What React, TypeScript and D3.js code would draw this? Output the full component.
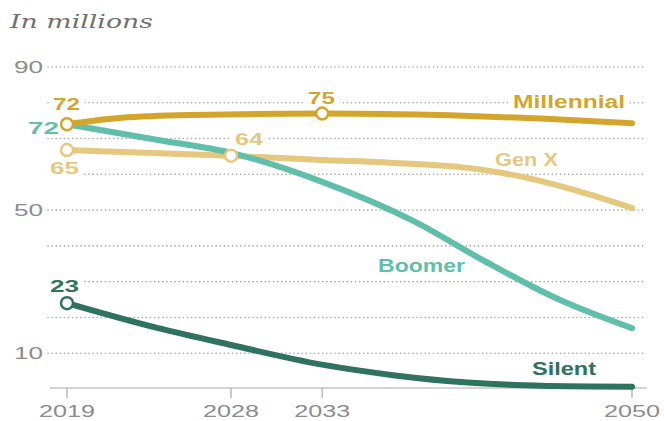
import React from "react";
import * as d3 from "d3";

const W = 664;
const H = 421;

const yTicks = [90, 50, 10];
const gridValues = [10, 20, 30, 40, 50, 60, 70, 80, 90];
const xTicks = [2019, 2028, 2033, 2050];

const millennialYears = [2019, 2022, 2026, 2033, 2040, 2045, 2050];
const millennialValues = [74.0, 75.8, 76.6, 77.0, 76.5, 75.6, 74.3];

const genXYears = [2019, 2028, 2033, 2037, 2041, 2044, 2047, 2050];
const genXValues = [66.8, 65.2, 64.0, 63.2, 61.8, 59.3, 55.4, 50.6];

const boomerYears = [2019, 2024, 2028, 2033, 2038, 2042, 2046, 2050];
const boomerValues = [74.0, 69.6, 66.0, 57.9, 47.0, 35.5, 25.0, 17.0];

const silentYears = [2019, 2024, 2028, 2033, 2037, 2041, 2045, 2050];
const silentValues = [24.0, 17.0, 12.3, 6.8, 3.8, 1.8, 0.9, 0.65];

const COLORS = {
  millennial: "#d3a62b",
  genX: "#e5c87e",
  boomer: "#5fbfab",
  silent: "#2f725d",
  axisText: "#8c8c8c",
  grid: "#a9a9a9",
  title: "#707070",
};

export default function App() {
  const x = d3.scaleLinear().domain([2019, 2050]).range([67, 632]);
  const y = d3.scaleLinear().domain([0, 90]).range([389, 67]);

  const line = d3
    .line<[number, number]>()
    .x((d) => x(d[0]))
    .y((d) => y(d[1]))
    .curve(d3.curveMonotoneX);

  const zip = (a: number[], b: number[]) => a.map((v, i) => [v, b[i]] as [number, number]);

  const series = [
    { key: "genX", data: zip(genXYears, genXValues), color: COLORS.genX },
    { key: "boomer", data: zip(boomerYears, boomerValues), color: COLORS.boomer },
    { key: "millennial", data: zip(millennialYears, millennialValues), color: COLORS.millennial },
    { key: "silent", data: zip(silentYears, silentValues), color: COLORS.silent },
  ];

  const markers = [
    { year: 2019, value: genXValues[0], color: COLORS.genX },
    { year: 2028, value: genXValues[1], color: COLORS.genX },
    { year: 2019, value: silentValues[0], color: COLORS.silent },
    { year: 2019, value: millennialValues[0], color: COLORS.millennial },
    { year: 2033, value: millennialValues[3], color: COLORS.millennial },
  ];

  const boldFont = "'Liberation Sans', Arial, sans-serif";

  const valueLabels = [
    { text: "72", x: 53, y: 110, len: 27, color: COLORS.millennial },
    { text: "72", x: 28, y: 134, len: 31, color: COLORS.boomer },
    { text: "65", x: 50, y: 174, len: 29, color: COLORS.genX },
    { text: "75", x: 308, y: 104, len: 27, color: COLORS.millennial },
    { text: "64", x: 235, y: 145, len: 28, color: COLORS.genX },
    { text: "23", x: 50, y: 292, len: 29, color: COLORS.silent },
  ];

  const seriesLabels = [
    { text: "Millennial", x: 513, y: 108, len: 112, color: COLORS.millennial },
    { text: "Gen X", x: 495, y: 166, len: 63, color: COLORS.genX },
    { text: "Boomer", x: 378, y: 272, len: 87, color: COLORS.boomer },
    { text: "Silent", x: 532, y: 375, len: 64, color: COLORS.silent },
  ];

  const allLabels = [...valueLabels, ...seriesLabels];

  return (
    <svg
      width={W}
      height={H}
      style={{ position: "absolute", left: 0, top: 0, background: "#fff" }}
    >
      <rect x={0} y={0} width={W} height={H} fill="#fff" />
      <text
        x={10}
        y={28}
        fontFamily="'DejaVu Serif', Georgia, serif"
        fontStyle="italic"
        fontSize={19}
        fill={COLORS.title}
        textLength={143}
        lengthAdjust="spacingAndGlyphs"
      >
        In millions
      </text>

      {gridValues.map((v) => (
        <line
          key={v}
          x1={48}
          x2={645}
          y1={y(v)}
          y2={y(v)}
          stroke={COLORS.grid}
          strokeWidth={1.6}
          strokeDasharray="0.1 4"
          strokeLinecap="round"
        />
      ))}

      {yTicks.map((v) => (
        <text
          key={v}
          x={43}
          y={y(v) + 6}
          textAnchor="end"
          fontFamily={boldFont}
          fontSize={17}
          fill={COLORS.axisText}
          textLength={29}
          lengthAdjust="spacingAndGlyphs"
        >
          {v}
        </text>
      ))}

      <line x1={50} x2={647} y1={y(0) - 1} y2={y(0) - 1} stroke="#aaa" strokeWidth={1.2} />
      {xTicks.map((t) => (
        <g key={t}>
          <line x1={x(t)} x2={x(t)} y1={y(0) - 1} y2={y(0) + 9} stroke="#aaa" strokeWidth={1.2} />
          <text
            x={x(t)}
            y={417}
            textAnchor="middle"
            fontFamily={boldFont}
            fontSize={17}
            fill={COLORS.axisText}
            textLength={56}
            lengthAdjust="spacingAndGlyphs"
          >
            {t}
          </text>
        </g>
      ))}

      {allLabels.map((l, i) => (
        <text
          key={"halo" + i}
          x={l.x}
          y={l.y}
          fontFamily={boldFont}
          fontWeight={700}
          fontSize={l.text.length > 2 ? 18 : 17}
          fill={l.color}
          stroke="#fff"
          strokeWidth={8}
          strokeLinejoin="round"
          paintOrder="stroke"
          textLength={l.len}
          lengthAdjust="spacingAndGlyphs"
        >
          {l.text}
        </text>
      ))}

      {series.map((s) => (
        <path
          key={s.key}
          d={line(s.data) || ""}
          fill="none"
          stroke={s.color}
          strokeWidth={6}
          strokeLinecap="round"
          strokeLinejoin="round"
        />
      ))}

      {markers.map((m, i) => (
        <circle
          key={i}
          cx={x(m.year)}
          cy={y(m.value)}
          r={6}
          fill="#fff"
          stroke={m.color}
          strokeWidth={2.5}
        />
      ))}
    </svg>
  );
}
